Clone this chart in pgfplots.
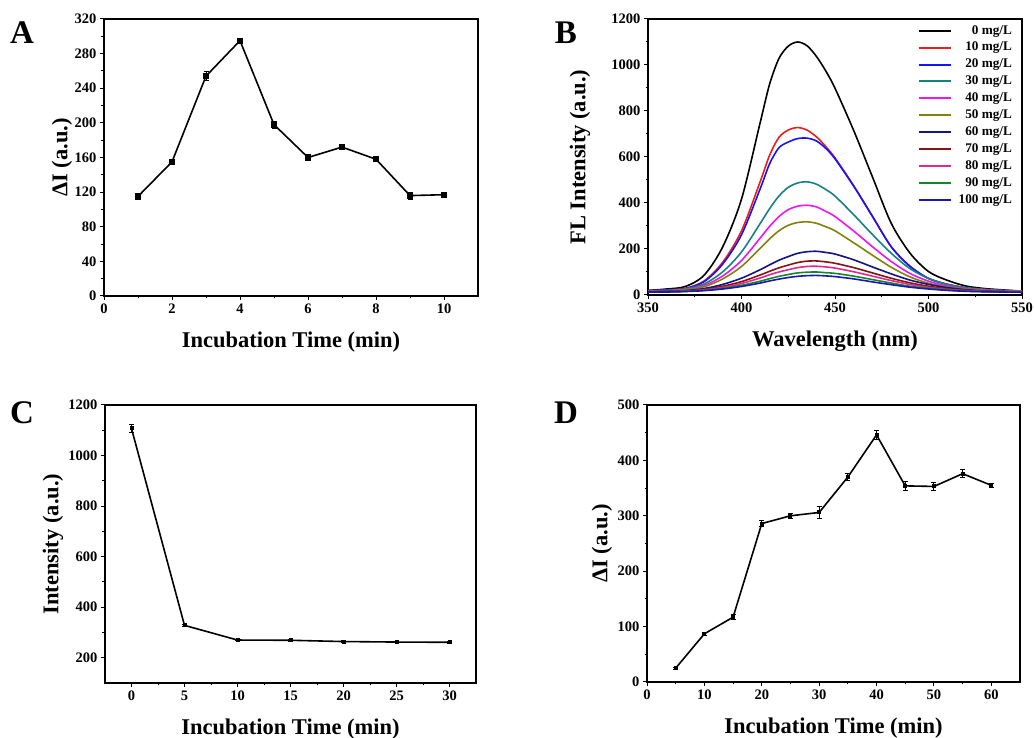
\documentclass[border=0pt]{standalone}
\usepackage{fontspec}
\setmainfont{Liberation Serif}
\usepackage{pgfplots}
\pgfplotsset{compat=1.18}

\definecolor{cRed}{RGB}{235,30,30}
\definecolor{cBlue}{RGB}{20,20,245}
\definecolor{cTeal}{RGB}{20,130,130}
\definecolor{cMag}{RGB}{240,20,240}
\definecolor{cOlive}{RGB}{130,130,10}
\definecolor{cNavy}{RGB}{20,20,130}
\definecolor{cMaroon}{RGB}{130,20,20}
\definecolor{cPink}{RGB}{225,40,140}
\definecolor{cGreen}{RGB}{20,135,40}
\definecolor{cDBlue}{RGB}{25,25,175}

\newcommand\labfont{\fontsize{22.5}{26}\selectfont\bfseries}

\pgfplotsset{
  panel/.style={
    scale only axis,
    axis line style={line width=1.3pt},
    tick style={black, line width=1pt},
    major tick length=4pt, minor tick length=2.5pt,
    tick align=outside,
    xtick pos=bottom, ytick pos=left,
    minor tick num=1,
    tick label style={font=\fontsize{14.5}{16}\selectfont\bfseries},
    /pgf/number format/assume math mode=true,
    /pgf/number format/1000 sep={},
    every axis x label/.style={at={(axis description cs:0.5,0)}, anchor=center,
      yshift=-46pt, font=\labfont},
    every axis plot/.append style={line width=1.6pt},
  },
  ylab/.style={every axis y label/.style={at={(axis description cs:0,0.5)},
    xshift=-#1, rotate=90, anchor=center, font=\labfont}},
  errs/.style={black, mark=square*,
    error bars/y dir=both, error bars/y explicit,
    error bars/error bar style={line width=1pt},
    error bars/error mark options={rotate=90, mark size=2.5pt, line width=1pt}},
}

\begin{document}
\begin{tikzpicture}
\path[use as bounding box] (0,0) rectangle (1034pt,738pt);

% ---- A ----
\begin{axis}[panel, ylab=42pt, at={(104pt,442pt)}, anchor=south west,
  width=374pt, height=277pt,
  xmin=0, xmax=11, xtick={0,2,...,10},
  ymin=0, ymax=320, ytick={0,40,...,320},
  xlabel={Incubation Time (min)}, ylabel={ΔI (a.u.)}]
\addplot[errs, mark size=2.3pt] coordinates {
  (1,115) +- (0,2)
  (2,155) +- (0,2)
  (3,254) +- (0,5)
  (4,295) +- (0,2)
  (5,198) +- (0,4)
  (6,160) +- (0,2)
  (7,172) +- (0,3)
  (8,158) +- (0,2)
  (9,116) +- (0,4)
  (10,117) +- (0,3)
};
\end{axis}

% ---- B ----
\begin{axis}[panel, ylab=68pt, at={(648pt,443pt)}, anchor=south west,
  width=374pt, height=276pt,
  xmin=350, xmax=550, xtick={350,400,...,550},
  ymin=0, ymax=1200, ytick={0,200,...,1200},
  xlabel={Wavelength (nm)}, ylabel={FL Intensity (a.u.)},
  legend style={at={(0.973,0.98)}, anchor=north east, draw=none, fill=none,
    inner sep=0pt, outer sep=0pt,
    font=\fontsize{13.2}{15}\selectfont\bfseries,
    nodes={inner sep=0pt, text height=9.5pt, text depth=3pt},
    row sep=4.4pt, column sep=7pt},
  legend cell align=right,
  legend image code/.code={\draw[#1, line width=2pt] (0pt,0pt) -- (32pt,0pt);},
  every axis plot/.append style={smooth}]
\addplot[black] coordinates {(350,20)(360,26)(370,37)(380,86)(390,210)(400,417)(410,750)(415,916)(420,1028)(425,1082)(430,1100)(435,1084)(440,1038)(445,975)(450,899)(460,715)(470,514)(480,313)(490,183)(500,102)(510,64)(520,39)(530,28)(540,22)(550,17)};
\addplot[cRed] coordinates {(350,19)(360,22)(370,29)(380,61)(390,143)(400,279)(410,493)(415,607)(420,685)(425,717)(430,728)(435,717)(440,688)(445,646)(450,596)(460,475)(470,343)(480,211)(490,126)(500,72)(510,47)(520,31)(530,24)(540,19)(550,16)};
\addplot[cBlue] coordinates {(350,18)(360,22)(370,28)(380,58)(390,135)(400,262)(410,462)(415,570)(420,640)(425,665)(430,680)(435,682)(440,670)(445,638)(450,592)(460,473)(470,342)(480,210)(490,125)(500,72)(510,46)(520,31)(530,23)(540,19)(550,16)};
\addplot[cTeal] coordinates {(350,17)(360,20)(370,27)(380,48)(390,101)(400,187)(410,311)(415,375)(420,430)(425,468)(430,487)(435,492)(440,482)(445,459)(450,430)(460,349)(470,263)(480,182)(490,115)(500,72)(510,46)(520,32)(530,24)(540,19)(550,16)};
\addplot[cMag] coordinates {(350,17)(360,19)(370,24)(380,41)(390,83)(400,150)(410,248)(415,298)(420,341)(425,371)(430,386)(435,390)(440,383)(445,364)(450,341)(460,278)(470,210)(480,146)(490,94)(500,60)(510,39)(520,28)(530,22)(540,18)(550,16)};
\addplot[cOlive] coordinates {(350,17)(360,18)(370,23)(380,36)(390,70)(400,124)(410,203)(415,244)(420,279)(425,303)(430,315)(435,318)(440,312)(445,297)(450,279)(460,227)(470,173)(480,121)(490,79)(500,51)(510,35)(520,26)(530,20)(540,17)(550,16)};
\addplot[cNavy] coordinates {(350,14)(360,16)(370,19)(380,28)(390,46)(400,73)(410,110)(415,131)(420,151)(425,167)(430,181)(435,188)(440,190)(445,185)(450,178)(460,153)(470,122)(480,92)(490,65)(500,46)(510,32)(520,23)(530,17)(540,15)(550,13)};
\addplot[cMaroon] coordinates {(350,13)(360,15)(370,17)(380,24)(390,38)(400,58)(410,87)(415,103)(420,118)(425,130)(430,141)(435,147)(440,148)(445,144)(450,138)(460,119)(470,96)(480,73)(490,53)(500,38)(510,27)(520,20)(530,16)(540,14)(550,13)};
\addplot[cPink] coordinates {(350,13)(360,14)(370,17)(380,22)(390,33)(400,50)(410,74)(415,88)(420,100)(425,110)(430,119)(435,124)(440,125)(445,122)(450,117)(460,101)(470,82)(480,63)(490,46)(500,33)(510,24)(520,19)(530,15)(540,14)(550,13)};
\addplot[cGreen] coordinates {(350,13)(360,14)(370,16)(380,20)(390,29)(400,42)(410,60)(415,71)(420,81)(425,89)(430,96)(435,99)(440,100)(445,97)(450,94)(460,82)(470,67)(480,52)(490,38)(500,29)(510,22)(520,17)(530,15)(540,13)(550,12)};
\addplot[cDBlue] coordinates {(350,13)(360,13)(370,15)(380,19)(390,26)(400,37)(410,52)(415,61)(420,69)(425,76)(430,81)(435,84)(440,85)(445,83)(450,80)(460,70)(470,57)(480,45)(490,34)(500,26)(510,20)(520,16)(530,14)(540,13)(550,12)};
\legend{0 mg/L,10 mg/L,20 mg/L,30 mg/L,40 mg/L,50 mg/L,60 mg/L,70 mg/L,80 mg/L,90 mg/L,100 mg/L}
\end{axis}

% ---- C ----
\begin{axis}[panel, ylab=52pt, at={(105pt,55pt)}, anchor=south west,
  width=371pt, height=278pt,
  xmin=-2.5, xmax=32.5, xtick={0,5,...,30},
  ymin=100, ymax=1200, ytick={200,400,...,1200},
  xlabel={Incubation Time (min)}, ylabel={Intensity (a.u.)}]
\addplot[errs, mark size=1.2pt] coordinates {
  (0,1107) +- (0,15)
  (5,328) +- (0,5)
  (10,270) +- (0,3)
  (15,269) +- (0,4)
  (20,264) +- (0,3)
  (25,262) +- (0,3)
  (30,261) +- (0,4)
};
\end{axis}

% ---- D ----
\begin{axis}[panel, ylab=45pt, at={(647pt,56pt)}, anchor=south west,
  width=373pt, height=277pt,
  xmin=0, xmax=65, xtick={0,10,...,60},
  ymin=0, ymax=500, ytick={0,100,...,500},
  xlabel={Incubation Time (min)}, ylabel={ΔI (a.u.)}]
\addplot[errs, mark size=1.2pt] coordinates {
  (5,25) +- (0,2)
  (10,87) +- (0,3)
  (15,117) +- (0,5)
  (20,286) +- (0,5)
  (25,300) +- (0,5)
  (30,306) +- (0,10)
  (35,370) +- (0,6)
  (40,446) +- (0,8)
  (45,354) +- (0,8)
  (50,353) +- (0,7)
  (55,376) +- (0,7)
  (60,355) +- (0,4)
};
\end{axis}

\begin{scope}[every node/.style={font=\fontsize{33}{36}\selectfont\bfseries, inner sep=0pt}]
\node at (22pt,705pt) {A};
\node at (566pt,705pt) {B};
\node at (22pt,325pt) {C};
\node at (566pt,325pt) {D};
\end{scope}
\end{tikzpicture}
\end{document}
